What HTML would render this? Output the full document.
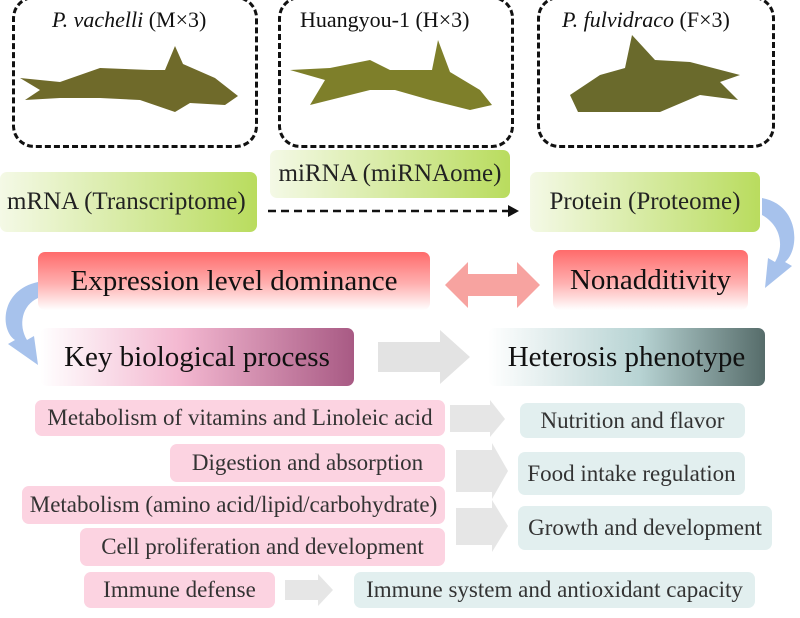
<!DOCTYPE html>
<html><head><meta charset="utf-8"><style>
body{margin:0;width:800px;height:618px;background:#fff;position:relative;overflow:hidden;font-family:"Liberation Serif","Times New Roman","DejaVu Serif",serif;color:#222}
.b,.lab{font-family:"Liberation Serif","Times New Roman","DejaVu Serif",serif}
.b{position:absolute;display:flex;align-items:center;justify-content:center;border-radius:7px;white-space:nowrap}
.g{background:linear-gradient(90deg,#f4f9e6,#b9dc5e);font-size:25px}
.r{background:linear-gradient(180deg,#ff6b6b 0%,#ffb0b0 55%,#fff 100%);font-size:29px;color:#111}
.p{background:#fcd3e1;font-size:23px;color:#333}
.c{background:#e2efef;font-size:23px;color:#333}
.db{position:absolute;border:3px dashed #111;border-radius:22px}
.lab{position:absolute;font-size:22px;color:#111;white-space:nowrap}
</style></head><body>
<div class="db" style="left:12px;top:-4px;width:240px;height:146px"></div>
<div class="db" style="left:278px;top:-4px;width:230px;height:146px"></div>
<div class="db" style="left:537px;top:-4px;width:232px;height:146px"></div>
<div class="lab" style="left:52px;top:7px"><i>P. vachelli</i> (M×3)</div>
<div class="lab" style="left:300px;top:7px">Huangyou-1 (H×3)</div>
<div class="lab" style="left:562px;top:7px"><i>P. fulvidraco</i> (F×3)</div>
<svg width="800" height="618" style="position:absolute;left:0;top:0">
<path d="M20,78 L60,82 L100,68 L150,70 L165,70 L175,46 L183,64 L215,78 L238,96 L225,105 L190,103 L175,112 L140,100 L100,98 L60,98 L25,100 L40,90Z" fill="#6f6a2a"/>
<path d="M290,70 L330,68 L370,60 L390,70 L432,70 L438,40 L450,72 L480,90 L492,105 L470,110 L430,100 L395,90 L370,90 L310,105 L325,80Z" fill="#7e7f2a"/>
<path d="M570,95 L600,75 L625,68 L632,35 L655,60 L690,62 L740,75 L720,82 L738,100 L700,95 L660,112 L610,112 L578,112Z" fill="#6a6a2c"/>
<line x1="268" y1="211" x2="508" y2="211" stroke="#111" stroke-width="2.5" stroke-dasharray="8,5"/>
<polygon points="508,205 519,211 508,217" fill="#111"/>
<polygon points="445,285 468,262 468,274 517,274 517,262 540,285 517,308 517,296 468,296 468,308" fill="#f7a3a0"/>
<polygon points="378,342 440,342 440,330 470,357 440,384 440,372 378,372" fill="#e3e3e3"/>
<polygon points="450,405 490,405 490,400 505,419 490,437 490,432 450,432" fill="#e6e6e6"/>
<polygon points="456,450 492,450 492,443 508,471 492,499 492,492 456,492" fill="#e6e6e6"/>
<polygon points="456,508 492,508 492,500 508,526 492,552 492,545 456,545" fill="#e6e6e6"/>
<polygon points="285,580 318,580 318,574 333,590 318,606 318,600 285,600" fill="#e6e6e6"/>
<path d="M762,198 C800,205 800,250 785,262 L792,266 L765,288 L768,258 L775,262 C785,245 780,225 762,215Z" fill="#a7c2ec"/>
<path d="M38,282 C0,290 0,330 15,340 L8,344 L38,365 L34,336 L27,340 C18,325 22,305 38,298Z" fill="#a7c2ec"/>
</svg>
<div class="b g" style="left:0;top:172px;width:257px;height:60px;justify-content:flex-start;padding-left:7px;box-sizing:border-box">mRNA (Transcriptome)</div>
<div class="b g" style="left:270px;top:150px;width:240px;height:48px">miRNA (miRNAome)</div>
<div class="b g" style="left:530px;top:172px;width:230px;height:60px">Protein (Proteome)</div>
<div class="b r" style="left:38px;top:252px;width:392px;height:58px">Expression level dominance</div>
<div class="b r" style="left:553px;top:250px;width:195px;height:60px">Nonadditivity</div>
<div class="b" style="left:40px;top:328px;width:314px;height:58px;background:linear-gradient(90deg,#fff,#f3b7d0 45%,#a85a84);font-size:29px;color:#111">Key biological process</div>
<div class="b" style="left:488px;top:328px;width:277px;height:58px;background:linear-gradient(90deg,#fff,#b7d3d3 55%,#566c6a);font-size:29px;color:#111">Heterosis phenotype</div>
<div class="b p" style="left:35px;top:400px;width:410px;height:36px">Metabolism of vitamins and Linoleic acid</div>
<div class="b p" style="left:170px;top:444px;width:275px;height:38px">Digestion and absorption</div>
<div class="b p" style="left:22px;top:486px;width:423px;height:38px">Metabolism (amino acid/lipid/carbohydrate)</div>
<div class="b p" style="left:80px;top:528px;width:365px;height:38px">Cell proliferation and development</div>
<div class="b p" style="left:84px;top:572px;width:191px;height:36px">Immune defense</div>
<div class="b c" style="left:520px;top:403px;width:225px;height:35px">Nutrition and flavor</div>
<div class="b c" style="left:518px;top:452px;width:227px;height:43px">Food intake regulation</div>
<div class="b c" style="left:518px;top:506px;width:254px;height:44px">Growth and development</div>
<div class="b c" style="left:354px;top:572px;width:401px;height:36px">Immune system and antioxidant capacity</div>
</body></html>
